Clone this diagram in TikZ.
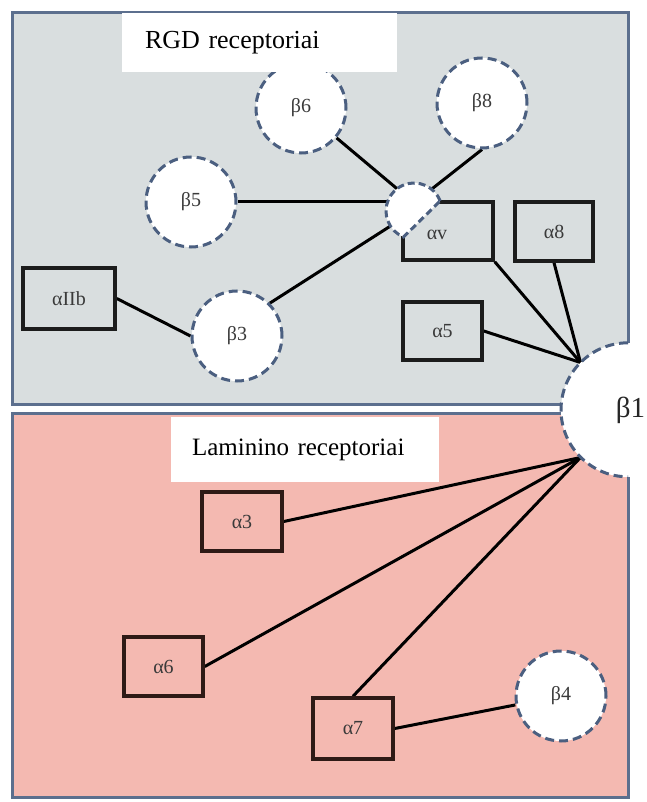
\documentclass[tikz,border=0pt]{standalone}
\usepackage{fontspec}
\setmainfont{Liberation Serif}[WordSpace=0.8]
\definecolor{topfill}{HTML}{D9DEDF}
\definecolor{botfill}{HTML}{F4B9B1}
\definecolor{panelline}{HTML}{5C6F8E}
\definecolor{dashline}{HTML}{4B5F80}
\definecolor{boxline}{HTML}{1C1C1C}
\definecolor{boxlinebot}{HTML}{2E1A16}
\definecolor{labeltext}{HTML}{3A3A3A}
\pgfdeclarelayer{bg}
\pgfdeclarelayer{links}
\pgfsetlayers{bg,links,main}
\begin{document}
\begin{tikzpicture}[x=1pt,y=-1pt,
  panel/.style={draw=panelline,line width=3pt},
  heading/.style={fill=white,inner ysep=0pt,align=left,text=black},
  greekbox/.style={rectangle,draw=boxline,line width=3.5pt,inner sep=0pt,
    font=\fontsize{20}{24}\selectfont,text=labeltext},
  botbox/.style={greekbox,draw=boxlinebot},
  betacirc/.style={circle,draw=dashline,dash pattern=on 9pt off 5pt,line width=3pt,
    fill=white,minimum size=90pt,inner sep=0pt,font=\fontsize{20}{24}\selectfont,text=labeltext},
  link/.style={draw=black,line width=3pt}
]
\useasboundingbox (0,0) rectangle (646,802);
\clip (0,0) rectangle (646,802);
\begin{pgfonlayer}{bg}
  \fill[white] (0,0) rectangle (646,802);
  \draw[panel,fill=topfill] (12,13) rectangle (628,404);
  \draw[panel,fill=botfill] (12,413) rectangle (628,797);
\end{pgfonlayer}

% beta circles
\node[betacirc] (b6) at (301,108) {β6};
\node[betacirc] (b8) at (482,103) {β8};
\node[betacirc] (b5) at (191,202) {β5};
\node[betacirc] (b3) at (237,336) {β3};
\node[betacirc] (b4) at (561,696) {β4};

% alpha boxes
\node[greekbox,minimum width=92pt,minimum height=61pt] (aIIb) at (69,298.5) {αIIb};
\node[greekbox,minimum width=90pt,minimum height=58pt,
  label={[font=\fontsize{20}{24}\selectfont,text=labeltext,xshift=-11pt,yshift=-4pt]center:αv}] (av) at (448,231) {};
\node[greekbox,minimum width=78pt,minimum height=59pt] (a8) at (554,231.5) {α8};
\node[greekbox,minimum width=79pt,minimum height=58pt] (a5) at (442.5,331) {α5};
\node[botbox,minimum width=80pt,minimum height=59pt] (a3) at (242,521.5) {α3};
\node[botbox,minimum width=79pt,minimum height=59pt] (a6) at (163.5,666.5) {α6};
\node[botbox,minimum width=80pt,minimum height=61pt] (a7) at (353,728.5) {α7};

% blob (partial circle) at alpha-v corner
\coordinate (blobo) at (414,211);
\coordinate (blobc) at (414,203);
\draw[dashline,dash pattern=on 7pt off 4pt,line width=3pt,fill=white]
  (blobo) ++(-21:28) arc[start angle=-21,end angle=-248,radius=28] -- cycle;

% headings
\node[heading,font=\fontsize{26}{30}\selectfont,inner xsep=23pt,text width=229pt,minimum height=59pt] (rgd) at (259.5,42.5) {RGD receptoriai};
\node[heading,font=\fontsize{25}{30}\selectfont,inner xsep=21pt,text width=226pt,minimum height=65pt] (lam) at (305,449.5) {Laminino receptoriai};

% beta1
\node[circle,fill=white,minimum size=134pt,inner sep=0pt,font=\fontsize{29}{34}\selectfont,text=black!85] (b1) at (628,410) {\hspace*{5pt}β1};
\draw[dashline,dash pattern=on 9pt off 5pt,line width=3pt] (b1.north) arc[start angle=-90,end angle=-270,radius=67];

\begin{pgfonlayer}{links}
  \draw[link] (b6) -- (blobc);
  \draw[link] (b8.south) -- (blobc);
  \draw[link] (b5) -- (b5 -| blobc);
  \draw[link] (b3.45) -- (blobo);
  \draw[link] (aIIb.east) -- (b3.west);
  \draw[link] (av.south east) -- (b1.135);
  \draw[link] (a8.south) -- (b1.135);
  \draw[link] (a5.east) -- (b1.135);
  \draw[link] (a3.east) -- (b1.225);
  \draw[link] (a6.east) -- (b1.225);
  \draw[link] (a7.north) -- (b1.225);
  \draw[link] (a7.east) -- (b4);
\end{pgfonlayer}
\end{tikzpicture}
\end{document}
